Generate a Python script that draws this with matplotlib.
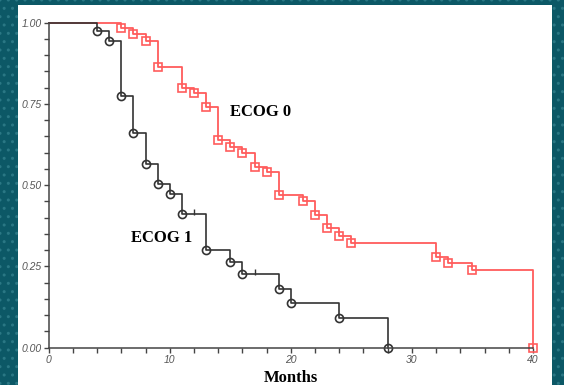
import matplotlib
matplotlib.use("Agg")
import matplotlib.pyplot as plt
from matplotlib.patches import Rectangle
from matplotlib.ticker import MultipleLocator, FixedLocator

# ECOG 0 (red) - event times (months) and survival after each drop
ecog0_t = [6, 7, 8, 9, 11, 12, 13, 14, 15, 16, 17, 18, 19, 21, 22, 23, 24, 25, 32, 33, 35, 40]
ecog0_s = [0.985, 0.964, 0.944, 0.863, 0.80, 0.785, 0.741, 0.640, 0.618, 0.600, 0.557, 0.540,
           0.470, 0.452, 0.408, 0.367, 0.344, 0.323, 0.280, 0.260, 0.239, 0.0]

# ECOG 1 (black)
ecog1_t = [4, 5, 6, 7, 8, 9, 10, 11, 13, 15, 16, 19, 20, 24, 28]
ecog1_s = [0.975, 0.945, 0.774, 0.660, 0.566, 0.504, 0.474, 0.410, 0.302, 0.263, 0.226,
           0.180, 0.137, 0.091, 0.0]
ecog1_cens_t = [12, 17]
ecog1_cens_s = [0.410, 0.226]

x_ticks = [0, 10, 20, 30, 40]
y_ticks = [0.0, 0.25, 0.50, 0.75, 1.00]
y_labels = ["0.00", "0.25", "0.50", "0.75", "1.00"]

fig = plt.figure(figsize=(5.64, 3.85), dpi=100)
fig.patch.set_facecolor("#0c5866")
bg = Rectangle((0, 0), 1, 1, transform=fig.transFigure, facecolor="#0c5866",
               edgecolor="#2a7784", hatch="..", linewidth=0, zorder=-3)
fig.patches.append(bg)
panel = Rectangle((18 / 564, 0), (552 - 18) / 564, (385 - 5) / 385,
                  transform=fig.transFigure, facecolor="white", edgecolor="none", zorder=-2)
fig.patches.append(panel)

ax = fig.add_axes([0.0863, 0.0969, 0.8587, 0.8442])
ax.patch.set_alpha(0)

red = "#ff5c5c"
dark = "#333333"

ax.step([0] + ecog0_t, [1.0] + ecog0_s, where="post", color=red, lw=1.3, clip_on=False)
ax.plot(ecog0_t, ecog0_s, "s", ms=5.3, mfc="none", mec=red, mew=1.2, clip_on=False)

ax.step([0] + ecog1_t, [1.0] + ecog1_s, where="post", color=dark, lw=1.2, clip_on=False)
ax.plot(ecog1_t, ecog1_s, "o", ms=5.8, mfc="none", mec=dark, mew=1.2, clip_on=False)
ax.plot(ecog1_cens_t, [s + 0.008 for s in ecog1_cens_s], "|", ms=4, color=dark, mew=1)

ax.set_xlim(0, 40)
ax.set_ylim(0, 1)
for side in ["top", "right"]:
    ax.spines[side].set_visible(False)
for side in ["left", "bottom"]:
    ax.spines[side].set_color("#444444")
    ax.spines[side].set_linewidth(1.1)

ax.xaxis.set_major_locator(FixedLocator(x_ticks))
ax.xaxis.set_minor_locator(MultipleLocator(2))
ax.yaxis.set_major_locator(FixedLocator(y_ticks))
ax.yaxis.set_minor_locator(MultipleLocator(0.05))
ax.set_yticklabels(y_labels)
ax.tick_params(which="both", direction="out", length=3.5, width=1, color="#444444",
               labelsize=7.5, labelcolor="#555555", pad=1.5)
for lab in ax.get_xticklabels() + ax.get_yticklabels():
    lab.set_fontstyle("italic")
    lab.set_family("Liberation Sans")

ax.text(14.95, 0.725, "ECOG 0", fontsize=12, fontweight="bold", family="Liberation Serif",
        va="center", ha="left")
ax.text(6.76, 0.3375, "ECOG 1", fontsize=12, fontweight="bold", family="Liberation Serif",
        va="center", ha="left")
fig.text(291 / 564, 0.018, "Months", fontsize=12, fontweight="bold", family="Liberation Serif",
         ha="center", va="center")

fig.savefig("out.png", dpi=100, facecolor=fig.get_facecolor())
